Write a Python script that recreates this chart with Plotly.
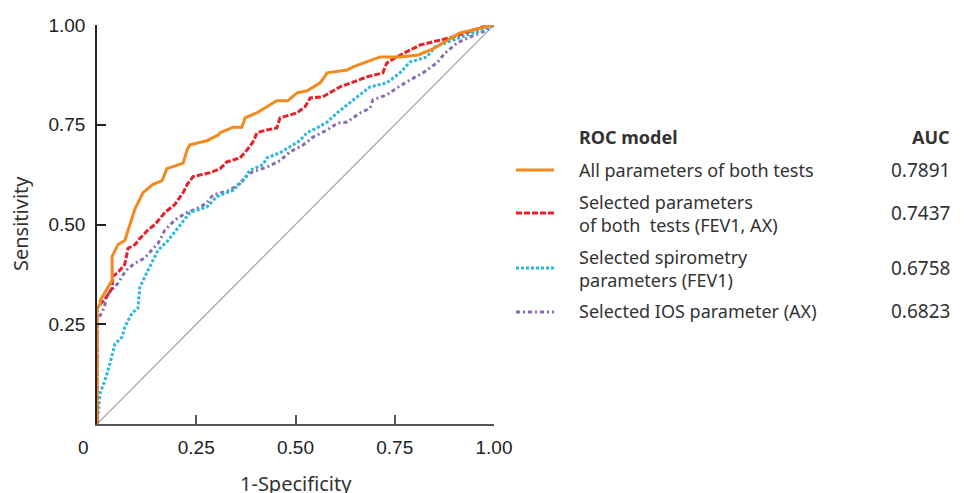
import plotly.graph_objects as go

# ROC curve data (1-Specificity, Sensitivity)
all_x = [0, 0, 0.008, 0.008, 0.038, 0.038, 0.053, 0.07, 0.083, 0.096, 0.116, 0.14, 0.164, 0.176, 0.217, 0.227,
         0.234, 0.277, 0.305, 0.31, 0.343, 0.365, 0.373, 0.403, 0.428, 0.453, 0.48, 0.504, 0.529, 0.562,
         0.58, 0.63, 0.645, 0.68, 0.713, 0.763, 0.81, 0.846, 0.914, 0.957, 1]
all_y = [0, 0.29, 0.30, 0.31, 0.36, 0.42, 0.45, 0.46, 0.50, 0.54, 0.58, 0.60, 0.61, 0.64, 0.654, 0.687,
         0.70, 0.71, 0.724, 0.73, 0.744, 0.744, 0.767, 0.78, 0.795, 0.81, 0.81, 0.83, 0.835, 0.855,
         0.88, 0.887, 0.895, 0.907, 0.92, 0.92, 0.925, 0.94, 0.98, 0.99, 1]

both_x = [0, 0, 0.025, 0.038, 0.04, 0.053, 0.07, 0.078, 0.096, 0.108, 0.128, 0.146, 0.171, 0.196, 0.217,
          0.227, 0.242, 0.285, 0.31, 0.327, 0.36, 0.378, 0.393, 0.403, 0.428, 0.453, 0.461, 0.486, 0.504,
          0.524, 0.537, 0.569, 0.594, 0.612, 0.645, 0.68, 0.72, 0.73, 0.755, 0.788, 0.814, 0.864, 0.897,
          0.947, 0.972, 1]
both_y = [0, 0.29, 0.32, 0.34, 0.37, 0.38, 0.40, 0.44, 0.45, 0.465, 0.486, 0.50, 0.53, 0.55, 0.58,
          0.60, 0.62, 0.63, 0.64, 0.657, 0.667, 0.687, 0.707, 0.73, 0.737, 0.742, 0.767, 0.774, 0.78,
          0.795, 0.817, 0.82, 0.835, 0.845, 0.857, 0.87, 0.88, 0.905, 0.92, 0.937, 0.95, 0.962, 0.97,
          0.987, 0.995, 1]

spiro_x = [0, 0.008, 0.02, 0.033, 0.045, 0.063, 0.07, 0.088, 0.103, 0.108, 0.12, 0.138, 0.154, 0.179, 0.2,
           0.214, 0.234, 0.277, 0.302, 0.343, 0.368, 0.385, 0.418, 0.428, 0.461, 0.486, 0.511, 0.529, 0.554,
           0.58, 0.605, 0.63, 0.67, 0.688, 0.73, 0.763, 0.788, 0.831, 0.851, 0.897, 0.932, 0.972, 1]
spiro_y = [0, 0.078, 0.11, 0.153, 0.20, 0.218, 0.243, 0.278, 0.29, 0.343, 0.368, 0.403, 0.436, 0.46, 0.486,
           0.506, 0.53, 0.544, 0.57, 0.586, 0.61, 0.636, 0.65, 0.667, 0.68, 0.695, 0.71, 0.73, 0.742,
           0.757, 0.78, 0.80, 0.832, 0.845, 0.855, 0.88, 0.907, 0.92, 0.945, 0.962, 0.975, 0.987, 1]

ios_x = [0, 0, 0.013, 0.02, 0.025, 0.038, 0.053, 0.065, 0.078, 0.096, 0.12, 0.138, 0.154, 0.171, 0.196,
         0.222, 0.252, 0.277, 0.292, 0.335, 0.36, 0.385, 0.428, 0.461, 0.486, 0.519, 0.544, 0.58, 0.605,
         0.63, 0.662, 0.688, 0.695, 0.73, 0.755, 0.788, 0.821, 0.856, 0.877, 0.907, 0.932, 0.965, 0.982, 1]
ios_y = [0, 0.26, 0.28, 0.30, 0.323, 0.336, 0.353, 0.373, 0.39, 0.403, 0.416, 0.436, 0.453, 0.486, 0.511,
         0.528, 0.54, 0.554, 0.574, 0.586, 0.604, 0.629, 0.644, 0.66, 0.682, 0.699, 0.719, 0.737, 0.754,
         0.757, 0.779, 0.792, 0.812, 0.825, 0.842, 0.862, 0.88, 0.905, 0.93, 0.955, 0.967, 0.98, 0.987, 1]

x_ticks = [0.25, 0.5, 0.75, 1.0]
x_tick_labels = ["0.25", "0.50", "0.75", "1.00"]
y_ticks = [0.25, 0.5, 0.75, 1.0]
y_tick_labels = ["0.25", "0.50", "0.75", "1.00"]

models = ["All parameters of both tests", "Selected parameters<br>of both  tests (FEV1, AX)",
          "Selected spirometry<br>parameters (FEV1)", "Selected IOS parameter (AX)"]
auc_values = ["0.7891", "0.7437", "0.6758", "0.6823"]

colors = ["#F28A1E", "#E8202A", "#2DB8E0", "#8A6CB0"]
dashes = ["solid", "6px,2px", "3px,2px", "4px,3px,2px,3px"]
widths = [3, 3, 3, 3]

LEG_FONT = "Noto Sans"
TICK_FONT = "Liberation Sans, Arial"
TXT = "#333333"

fig = go.Figure()
# diagonal reference
fig.add_trace(go.Scatter(x=[0, 1], y=[0, 1], mode="lines",
                         line=dict(color="#A0A0A0", width=1.2), hoverinfo="skip", showlegend=False))
series = [(all_x, all_y), (both_x, both_y), (spiro_x, spiro_y), (ios_x, ios_y)]
for i in [3, 2, 1, 0]:
    xs, ys = series[i]
    fig.add_trace(go.Scatter(x=xs, y=ys, mode="lines", cliponaxis=False,
                             line=dict(color=colors[i], width=widths[i], dash=dashes[i]),
                             showlegend=False))

W, H = 964, 493
L, R, T, B = 97, 494, 25, 424  # plot area in page pixels


def px(xp):
    return (xp - L) / (R - L)


def py(yp):
    return (B - yp) / (B - T)


ann = []
ann.append(dict(x=px(577), y=py(137), text="<b>ROC model</b>", xanchor="left", yanchor="middle",
                font=dict(family=LEG_FONT, size=18, color=TXT)))
ann.append(dict(x=px(952), y=py(137), text="<b>AUC</b>", xanchor="right", yanchor="middle",
                font=dict(family=LEG_FONT, size=18, color=TXT)))
text_y = [170, 213, 268, 311]
line_y = [170, 213, 268, 312]
for i in range(4):
    ann.append(dict(x=px(577), y=py(text_y[i]), text=models[i], xanchor="left", yanchor="middle",
                    align="left", font=dict(family=LEG_FONT, size=18, color=TXT)))
    ann.append(dict(x=px(952), y=py(text_y[i]), text=auc_values[i], xanchor="right", yanchor="middle",
                    font=dict(family=LEG_FONT, size=19, color=TXT)))
ann.append(dict(x=px(83), y=py(447), text="0", xanchor="center", yanchor="middle",
                font=dict(family=TICK_FONT, size=19, color="#222")))
# axis titles
ann.append(dict(x=px(296), y=py(483), text="1-Specificity", xanchor="center", yanchor="middle",
                font=dict(family=LEG_FONT, size=20, color=TXT)))
ann.append(dict(x=px(20), y=py(224), text="Sensitivity", xanchor="center", yanchor="middle",
                textangle=-90, font=dict(family=LEG_FONT, size=20, color=TXT)))
for a in ann:
    a.update(xref="paper", yref="paper", showarrow=False)

shapes = []
for i in range(4):
    shapes.append(dict(type="line", xref="paper", yref="paper", x0=px(516), x1=px(554),
                       y0=py(line_y[i]), y1=py(line_y[i]),
                       line=dict(color=colors[i], width=widths[i], dash=dashes[i])))

fig.update_layout(
    width=W, height=H, margin=dict(l=L, r=W - R, t=T, b=H - B, autoexpand=False),
    paper_bgcolor="white", plot_bgcolor="white",
    annotations=ann, shapes=shapes, showlegend=False,
    xaxis=dict(range=[0, 1], tickvals=x_ticks, ticktext=x_tick_labels, ticks="inside", ticklen=9,
               tickwidth=1.5, tickcolor="#555", showline=True, linecolor="#555", linewidth=2,
               showgrid=False, zeroline=False, ticklabelstandoff=5, automargin=False,
               tickfont=dict(family=TICK_FONT, size=19, color="#222")),
    yaxis=dict(range=[0, 1], tickvals=y_ticks, ticktext=y_tick_labels, ticks="inside", ticklen=9,
               tickwidth=1.5, tickcolor="#222", showline=True, linecolor="#222", linewidth=1.5,
               showgrid=False, zeroline=False, ticklabelstandoff=6, automargin=False,
               tickfont=dict(family=TICK_FONT, size=19, color="#222")),
)

fig.write_html("out.html", config={"displayModeBar": False},
               post_script="document.body.style.margin='0';document.body.style.overflow='hidden';")
